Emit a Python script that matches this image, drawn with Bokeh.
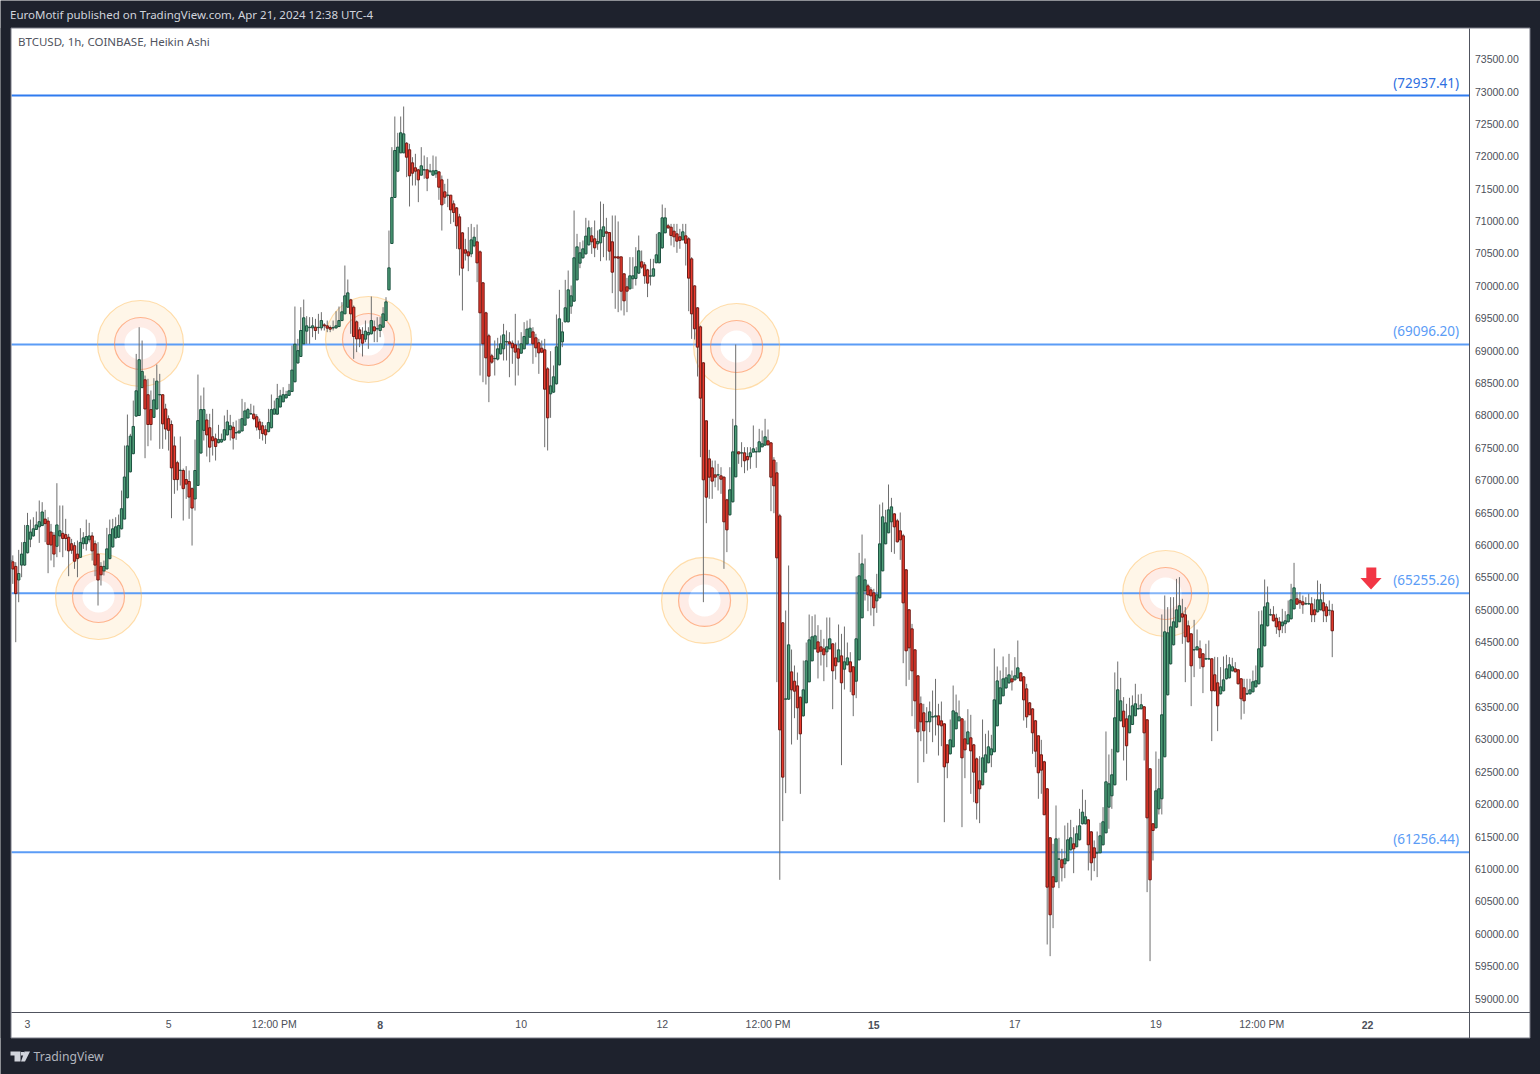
from bokeh.plotting import figure
from bokeh.models import (FixedTicker, LinearAxis, Label, Range1d, PolyAnnotation)
from bokeh.embed import file_html
from bokeh.resources import INLINE

hours = list(range(-6, 445))
opens = [
65680,65740,65670,65460,65690,65690,65880,66090,66140,66240,
66280,66300,66400,66370,66200,66150,65980,66140,66180,66160,
66120,66020,65990,65860,65810,66020,66020,66080,66140,66020,
65860,65670,65600,65630,65790,65970,66110,66120,66250,66400,
66730,67130,67410,67990,68000,68430,68550,68320,68090,67970,
68100,68318,68320,68100,67950,67860,67530,67270,67150,67150,
67010,66980,66870,66710,66920,67420,67770,67930,67810,67670,
67640,67580,67590,67620,67700,67780,67820,67730,67730,67760,
67850,67960,68024,68020,67980,67900,67840,67780,67750,67810,
68020,68020,68130,68210,68270,68310,68370,68520,68810,
68910,69105,69301,69355,69352,69362,69355,69352,69398,69383,
69357,69350,69352,69373,69465,69568,69671,69784,69671,69445,
69321,69249,69177,69244,69260,69367,69335,69311,69362,69465,
69939,70654,71364,71770,72053,72053,72202,72100,71899,71822,
71791,71709,71788,71791,71770,71709,71729,71760,71636,71451,
71398,71400,71266,71204,71065,70818,70556,70525,70494,70618,
70679,70525,70047,69584,69229,68920,68875,68869,68951,69028,
69135,69136,69115,69090,69028,68961,69028,69105,69208,69290,
69198,69121,69038,69013,68719,68333,68359,68488,68781,69136,
69445,69445,69687,69764,70093,70350,70433,70494,70633,
70772,70726,70649,70664,70762,70834,70824,70680,70448,70448,
70448,70186,69985,69954,70109,70114,70196,70371,70325,70247,
70150,70150,70356,70356,70587,70819,70927,70906,70844,70803,
70757,70711,70772,70726,70417,70000,69661,69368,68812,67917,
67330,67191,67083,67080,67068,67047,66697,66466,66667,67052,
67438,67420,67423,67366,67361,67433,67437,67438,67515,67541,
67608,67577,67310,67114,66450,
64799,63620,63620,64042,63898,63826,63651,63363,63564,63888,
64212,64397,64505,64428,64397,64351,64397,64475,64258,64197,
64289,64083,64150,64197,64120,63898,64228,64876,65293,65370,
65308,65262,65138,65185,65601,66018,66188,66358,66481,66373,
66219,66142,65617,65000,64706,64382,63981,63549,63410,63270,
63271,63345,63348,63363,63286,63240,62916,62777,62885,63163,
63286,63317,63008,62931,63024,62916,62700,62360,62298,62494,
62638,62761,62808,63209,63549,63672,63795,63873,63934,63919,
63950,64027,63965,63780,63564,63471,
63287,63055,62762,62654,62237,61481,60879,60802,61150,61141,
61079,61126,61295,61388,61342,61450,61697,61697,61758,61573,
61326,61245,61249,61373,61558,61954,62129,62299,62808,63287,
63436,63317,63101,63230,63364,63470,63472,63503,63302,62546,
61697,61635,61928,62083,62731,63688,64166,64460,64732,64815,
64938,64923,64753,64629,64380,64382,64398,64321,64240,64240,
64244,63997,63873,63703,63750,63935,63950,64058,64089,64074,
63935,63796,63700,63703,63734,63811,63858,64120,64444,64753,
64920,64923,64871,64815,64753,64784,64815,64861,65015,65170,
65139,65123,65090,65090,65092,65000,64969,65000,65108,65046,
64990,64984,
]
closes = [
65770,65630,65250,65560,65860,66040,66300,66200,66250,66310,
66360,66510,66330,66010,66000,65860,66310,66220,66100,66100,
65910,65920,65750,65790,66040,66110,66130,66140,65910,65690,
65460,65540,65670,65940,66160,66250,66280,66300,66560,67050,
67530,67680,67830,68380,68860,68680,68100,67860,67860,68240,
68530,68322,67870,67790,67770,67190,67010,67010,67155,66870,
66940,66740,66570,67150,67920,68090,68090,67700,67510,67610,
67520,67630,67630,67780,67900,67840,67650,67735,67760,67950,
68070,68090,68028,67950,67820,67780,67720,67700,67890,68090,
68100,68260,68300,68320,68320,68380,68700,69100,69000,
69311,69507,69383,69360,69383,69311,69360,69465,69383,69347,
69332,69355,69383,69465,69599,69846,69892,69568,69218,69182,
69182,69115,69301,69280,69465,69306,69340,69398,69568,69753,
70278,71364,72089,72141,72362,72346,71986,71698,71739,71770,
71636,71853,71793,71662,71772,71775,71781,71523,71251,71369,
71400,71173,71132,70926,70571,70273,70505,70463,70710,70752,
70355,69584,69105,68889,68606,68822,68880,69028,69105,69244,
69140,69105,69043,68977,68884,69105,69218,69332,69347,69105,
69043,68966,68977,68405,67963,68457,68596,69059,69491,69290,
69661,69939,69846,70433,70602,70510,70571,70767,70896,
70680,70587,70685,70865,70911,70813,70536,70211,70433,70428,
69918,69769,69918,70155,70155,70294,70541,70289,70155,70042,
70155,70263,70479,70819,71050,71050,70896,70777,70757,70690,
70700,70834,70659,70119,69568,69337,69054,68267,67006,66738,
67047,66986,67047,67085,67016,66358,66234,66852,67438,67840,
67407,67423,67300,67315,67423,67485,67440,67593,67562,67670,
67546,67047,66914,65802,63147,
62417,63625,64459,63765,63744,63487,63085,63765,64212,64536,
64583,64598,64346,64361,64305,64428,64552,64058,64135,64382,
63873,64197,64258,64042,63687,64552,65524,65709,65462,65231,
65215,65030,65231,66018,66435,66342,66543,66589,66280,66049,
66080,65107,64367,64413,64058,63595,63116,63271,63132,63275,
63425,63350,63363,63224,63209,62576,62638,62993,63440,63410,
63348,62715,62838,63116,62823,62494,62020,62237,62715,62761,
62885,62854,63610,63903,63795,63934,63950,63996,63888,63981,
64104,63903,63610,63348,63379,63101,
62818,62484,62525,61836,60719,60292,60719,61465,61155,61018,
61156,61450,61481,61311,61542,61666,61877,61805,61373,61095,
61172,61250,61512,61728,62345,62314,62453,63333,63765,63595,
63194,62901,63364,63518,63549,63475,63534,63101,61789,60832,
61594,62206,62237,63379,64660,64645,64737,64815,64999,65062,
64887,64583,64506,64135,64385,64429,64259,64120,64245,64245,
63750,63750,63518,63811,63919,64089,64151,64120,64043,63858,
63626,63595,63705,63765,63889,63904,64398,64768,65046,65108,
64925,64830,64737,64691,64809,64830,64923,65154,65339,65087,
65108,65077,65095,65095,64923,64923,65154,65154,64984,64907,
64995,64676,
]
highs = [
65970,65840,65735,65925,66044,66310,66496,66393,66429,66517,
66687,66661,66543,66429,66326,66198,66954,66610,66610,66404,
66172,66095,66044,66069,66260,66198,66393,66342,66198,66069,
66044,65735,65760,66265,66393,66404,66429,66470,66841,67536,
68014,67716,68230,68950,69362,69156,68616,68565,68385,68575,
68786,68642,68320,68180,68000,67922,67675,67300,67675,67180,
67217,67150,66890,67628,68631,68307,68431,68025,68025,68102,
67720,67855,67720,67999,68086,68009,67900,67922,67947,68256,
68204,68117,68179,68153,68020,67950,67900,67850,68102,68323,
68230,68487,68395,68436,68380,68487,69079,69681,69182,
69671,69789,69532,69517,69517,69491,69568,69594,69424,69465,
69388,69465,69609,69681,69748,70314,70098,69800,69697,69465,
69362,69362,69465,69362,69836,69465,69517,69517,69671,69825,
70854,72141,72614,72362,72614,72768,72218,72192,71986,72038,
71806,72141,72012,71986,71883,72012,71997,71760,71703,71575,
71652,71400,71318,71215,71112,70829,70726,70906,70957,70906,
70947,70546,70060,69600,69260,68951,69157,69198,69234,69414,
69311,69285,69157,69568,69157,69285,69440,69465,69491,69362,
69260,69182,69157,69182,68745,68992,68771,69558,69939,69440,
70093,70237,70006,71163,70803,70674,70700,71050,71009,
70906,71009,70855,71302,71266,71050,70830,71086,71086,70994,
70448,70196,70124,70443,70443,70597,70777,70546,70366,70263,
70417,70417,70803,70829,71256,71204,70957,70957,70957,70957,
70880,70957,70957,70752,70443,70006,69671,69388,68822,67922,
67469,67304,67304,67253,67201,67060,66713,67201,67948,69095,
67440,67587,67510,67510,67510,67845,67510,67793,67768,67948,
67783,67590,67356,67279,66481,
64810,64989,65684,64387,64140,64032,63660,64217,64495,64927,
64902,64927,64763,64691,64552,64881,64881,64480,64495,64773,
64629,64742,64495,64346,64125,65514,65879,66162,65792,65401,
65349,65324,65555,66625,66656,66543,66934,66728,66490,66404,
66502,66172,65630,65010,64783,64390,63990,63662,63549,63497,
63584,63754,63934,63549,63584,63250,62916,63307,63831,63692,
63600,63325,63291,63466,63379,62930,62720,62741,63307,63086,
63137,63070,64403,64125,64063,64279,64114,64320,64063,64269,
64526,64035,63975,63857,63575,63480,
63300,63060,62993,62670,62250,61490,61388,61980,61481,61311,
61671,61712,61758,61645,61671,61928,62227,62067,61770,61585,
61440,61578,61712,61954,63122,62767,62854,64033,64202,63950,
63652,63549,63642,63678,63858,63693,63703,63515,63310,62555,
61705,62813,62700,64928,65221,65041,65195,65195,65478,65504,
65170,65041,64835,64640,64845,64696,64527,64330,64475,64527,
64250,64274,64269,64115,64280,64305,64269,64259,64192,64082,
63945,63935,63935,63935,64063,64141,64979,64990,65468,65360,
65015,65056,64938,64887,65015,64979,65144,65401,65725,65272,
65272,65221,65195,65247,65195,65170,65453,65401,65272,65092,
65144,65092,
]
lows = [
65550,65400,64500,65117,65503,65680,65870,65966,66130,66240,
66033,66300,66044,65565,65761,65658,65812,65889,65812,65915,
65519,65864,65632,65503,65800,65940,65915,66040,65760,65519,
65066,65375,65530,65630,65780,65960,66100,66110,66240,66400,
66720,67120,67400,67980,67990,68420,67340,67525,67613,67960,
68090,67484,67484,67628,67458,66414,66790,66841,66918,66378,
66712,66404,65992,66532,66915,67410,67613,67366,67278,67381,
67304,67570,67580,67610,67690,67613,67474,67623,67725,67755,
67845,67955,68010,67927,67767,67638,67613,67561,67740,67800,
68020,68010,68125,68205,68265,68300,68360,68510,68800,
68905,69105,69105,69105,69208,69167,69260,69311,69311,69285,
69285,69311,69337,69362,69455,69568,69661,69260,68874,68977,
69054,68910,69131,69028,69249,69131,69131,69208,69352,69460,
69928,70649,71358,71755,72048,72048,71678,71225,71549,71549,
71292,71703,71652,71462,71739,71700,71667,71328,70854,71266,
71215,70957,70983,70571,70160,69620,70391,70227,70443,70597,
70057,68616,68513,68477,68205,68797,68616,68848,68940,68848,
68848,68590,68797,68462,68616,68951,69023,69095,69198,68797,
68899,68642,68961,67510,67459,67963,68349,68477,68771,69054,
69435,69435,69568,69753,70083,70273,70417,70484,70623,
70494,70443,70556,70381,70443,70392,70392,69887,69646,69594,
69620,69543,69594,69944,69954,70006,70186,70263,70031,69826,
70006,70145,70350,70350,70572,70813,70880,70623,70597,70510,
70572,70700,70314,69609,69182,69172,68601,67356,65118,66337,
66713,66713,66893,66841,66790,65632,65890,66456,66656,67047,
67253,67201,67109,67150,67176,67480,67191,67433,67510,67536,
67540,66522,66491,63883,60832,
61738,62170,63610,62921,63327,62993,62159,63353,63559,63883,
64207,64392,63940,64140,63898,64114,64392,63466,63924,64192,
62602,63770,64145,63729,63358,63636,64217,64871,65143,64979,
64912,64747,64953,65174,65596,66013,66183,65890,65864,66039,
65771,64176,63821,63919,63358,63163,62329,62972,62648,62777,
63111,62957,63060,62751,62895,61722,62401,62767,62880,63158,
63281,61645,62401,62921,62159,62031,61763,61707,62293,62489,
62633,62571,62803,63204,63544,63667,63780,63857,63754,63909,
63934,63900,63291,63178,63379,62777,
62571,62083,62160,61836,59834,59654,60086,60797,60704,60807,
60858,61120,61285,60935,61335,61440,61687,61687,60977,60822,
60966,60874,61244,61363,61550,61620,61928,62290,62798,63277,
62674,62366,63096,63225,63359,63465,63465,62674,60642,59577,
61131,61625,61841,61841,62726,63678,64156,64450,64722,64810,
64475,63883,64496,63513,63961,64372,64089,63714,64232,64232,
62973,63740,63127,63693,63740,63925,63940,64048,64033,63848,
63307,63395,63690,63693,63724,63801,63848,64110,64434,64743,
64912,64820,64629,64578,64640,64640,64805,64851,65005,65077,
65015,64938,65080,65080,64810,64810,64959,64990,64810,64810,
64912,64269,
]

level_prices = [72937.41, 69096.20, 65255.26, 61256.44]
level_labels = ["(72937.41)", "(69096.20)", "(65255.26)", "(61256.44)"]
level_colors = ["#2f7bef", "#5b9cf6", "#5b9cf6", "#5b9cf6"]
label_colors = ["#2f6fe0", "#5b9cf6", "#5b9cf6", "#5b9cf6"]
ring_hours = [38.45, 24.16, 116.04, 241.3, 230.4, 387.3]
ring_prices = [69110, 65205, 69172, 69064, 65144, 65252]
arrow_hours = [455.6, 459.0, 459.0, 460.8, 457.2, 453.6, 455.6, 455.6]
arrow_prices = [65653, 65653, 65490, 65490, 65313, 65490, 65490, 65653]
y_ticks = list(range(59000, 74000, 500))
x_ticks = [0, 48, 84, 120, 168, 216, 252, 288, 336, 384, 420, 456]
x_labels = ["3", "5", "12:00 PM", "", "10", "12", "12:00 PM", "", "17", "19", "12:00 PM", ""]
bold_ticks = [120, 288, 456]
bold_labels = ["8", "15", "22"]

DARK = "#1e222d"
FONT = "Noto Sans"
AXFONT = "Liberation Sans"
W, H = 1540, 1074
PX_PER_HOUR = 2.9386
PRICE_PER_PX = 15.435
def hx(px):
    return (px - 27) / PX_PER_HOUR
def py(y):
    return 73000 - (y - 91) * PRICE_PER_PX

# The frame is the whole canvas: page chrome and the chart pane live inside it.
p = figure(width=W, height=H, output_backend="svg", toolbar_location=None,
           x_range=Range1d(hx(0), hx(W)), y_range=Range1d(py(H), py(0)),
           x_axis_location=None, y_axis_location=None,
           min_border=0, min_border_left=0, min_border_right=0, min_border_top=0, min_border_bottom=0)
p.border_fill_color = DARK
p.background_fill_color = DARK
p.grid.visible = False
p.outline_line_color = None

PANE_L, PANE_R, PANE_T, PANE_B = 10.5, 1529.5, 27.5, 1037.5
SEP_X, SEP_Y = 1468.5, 1011.5
p.quad(left=[hx(PANE_L)], right=[hx(PANE_R)], top=[py(PANE_T)], bottom=[py(PANE_B)],
       fill_color="white", line_color=None)

yaxis = LinearAxis(ticker=FixedTicker(ticks=y_ticks), fixed_location=hx(SEP_X), bounds=(py(PANE_B), py(PANE_T)))
xaxis = LinearAxis(ticker=FixedTicker(ticks=x_ticks), fixed_location=py(SEP_Y), bounds=(hx(PANE_L), hx(PANE_R)))
xaxis.major_label_overrides = {t: l for t, l in zip(x_ticks, x_labels)}
yaxis.major_label_overrides = {t: f"{t:.2f}" for t in y_ticks}
for ax in (xaxis, yaxis):
    ax.major_tick_line_color = None
    ax.minor_tick_line_color = None
    ax.major_tick_out = 0
    ax.major_tick_in = 0
    ax.minor_tick_out = 0
    ax.minor_tick_in = 0
    ax.axis_line_color = "#50535e"
    ax.axis_line_width = 1
    ax.major_label_text_font = AXFONT
    ax.major_label_text_font_size = "10.5px"
    ax.major_label_text_color = "#4c4f59"
yaxis.major_label_standoff = 6
xaxis.major_label_standoff = 6
p.add_layout(yaxis, "right")
p.add_layout(xaxis, "below")

p.annulus(ring_hours, ring_prices, inner_radius=26, outer_radius=43,
          inner_radius_units="screen", outer_radius_units="screen",
          fill_color="#ff9800", fill_alpha=0.09, line_color=None)
p.annulus(ring_hours, ring_prices, inner_radius=16, outer_radius=26,
          inner_radius_units="screen", outer_radius_units="screen",
          fill_color="#f4511e", fill_alpha=0.11, line_color=None)

for price, col in zip(level_prices, level_colors):
    p.line([hx(11), hx(SEP_X)], [price, price], line_color=col, line_width=2)

p.scatter(ring_hours, ring_prices, size=86, fill_color=None, line_color="#ffb74d", line_alpha=0.45, line_width=1.2)
p.scatter(ring_hours, ring_prices, size=52, fill_color=None, line_color="#ff8a50", line_alpha=0.6, line_width=1.2)
p.scatter(ring_hours, ring_prices, size=32, fill_color="white", fill_alpha=0.25, line_color=None)

UP, UPB, DN, DNB = "#4f9f78", "#1c5240", "#ea3b2e", "#6f1a14"
p.segment(hours, highs, hours, lows, line_color="#6e6e6e", line_width=1)
up = [i for i in range(len(hours)) if closes[i] >= opens[i]]
dn = [i for i in range(len(hours)) if closes[i] < opens[i]]
p.vbar([hours[i] for i in up], 0.8, [opens[i] for i in up], [closes[i] for i in up],
       fill_color=UP, line_color=UPB, line_width=1)
p.vbar([hours[i] for i in dn], 0.8, [closes[i] for i in dn], [opens[i] for i in dn],
       fill_color=DN, line_color=DNB, line_width=1)

# left page margin covers the first candle, as the pane edge does in the reference; then the pane border
p.quad(left=[hx(0)], right=[hx(PANE_L)], top=[py(PANE_T)], bottom=[py(PANE_B)], fill_color=DARK, line_color=None)
p.quad(left=[hx(PANE_L)], right=[hx(PANE_R)], top=[py(PANE_T)], bottom=[py(PANE_B)],
       fill_color=None, line_color="#787b86", line_width=1)

p.patch(arrow_hours, arrow_prices, fill_color="#f23645", line_color=None)

for price, text, col in zip(level_prices, level_labels, label_colors):
    p.add_layout(Label(x=hx(1458.5), y=price, text=text, text_align="right", text_baseline="middle",
                       y_offset=13, text_font=FONT, text_font_size="13.5px", text_color=col))

def scr(x, y, text, color, size, font=FONT):
    p.add_layout(Label(x=x, y=H - y, x_units="screen", y_units="screen", text=text, text_color=color,
                       text_font=font, text_font_size=size, text_baseline="middle"))

scr(9.5, 13.5, "EuroMotif published on TradingView.com, Apr 21, 2024 12:38 UTC-4", "#d1d4dc", "11.5px")
scr(17.5, 40.5, "BTCUSD, 1h, COINBASE, Heikin Ashi", "#50535e", "11.5px")
scr(33, 1055.5, "TradingView", "#b2b5be", "12.2px")
for t, l in zip(bold_ticks, bold_labels):
    p.add_layout(Label(x=t, y=H - 1024, x_units="data", y_units="screen", text=l, text_color="#4c4f59",
                       text_font=AXFONT, text_font_size="10.5px", text_font_style="bold",
                       text_align="center", text_baseline="middle"))

logo = [
    [(10, 1051), (20, 1051), (20, 1061), (14, 1061), (14, 1055), (10, 1055)],
    [(20.5, 1051.5), (23.5, 1051.5), (23.5, 1055), (20.5, 1055)],
    [(24, 1051), (29.5, 1051), (24.5, 1061), (20.5, 1061)],
]
for shape in logo:
    p.add_layout(PolyAnnotation(xs=[a for a, _ in shape], ys=[H - b for _, b in shape],
                                xs_units="screen", ys_units="screen",
                                fill_color="#d1d4dc", fill_alpha=1, line_color=None))

open("out.html", "w").write(file_html(p, INLINE))
